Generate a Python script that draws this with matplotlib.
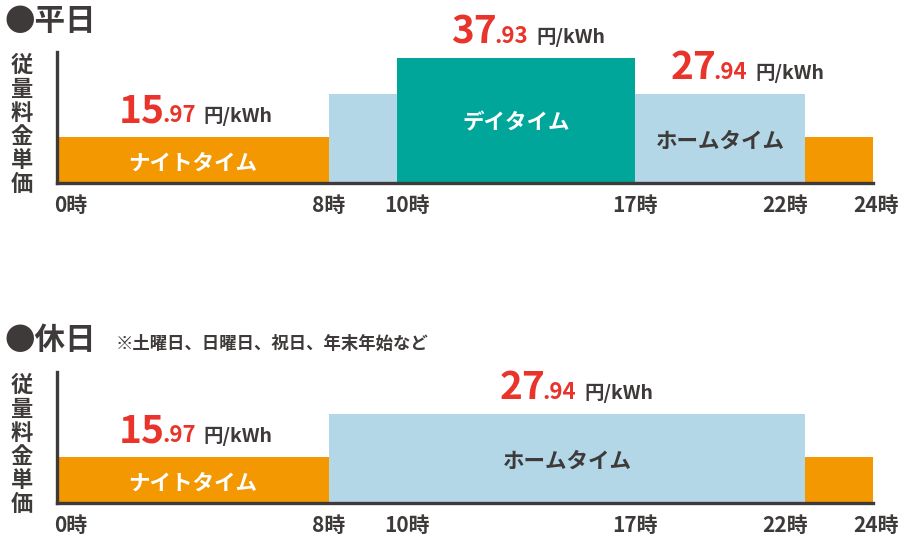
import matplotlib.pyplot as plt
from matplotlib.offsetbox import TextArea, HPacker, AnnotationBbox

plt.rcParams['font.family'] = ['Noto Sans CJK JP', 'DejaVu Sans']

# Data
plans = ['night', 'day', 'home']
plan_names = ['ナイトタイム', 'デイタイム', 'ホームタイム']
plan_prices = [15.97, 37.93, 27.94]

hour_ticks = [0, 8, 10, 17, 22, 24]
tick_labels = ['0時', '8時', '10時', '17時', '22時', '24時']

weekday_start = [0, 8, 10, 17, 22]
weekday_end = [8, 10, 17, 22, 24]
weekday_plan = ['night', 'home', 'day', 'home', 'night']
weekday_labeled = [0, 2, 3]

holiday_start = [0, 8, 22]
holiday_end = [8, 22, 24]
holiday_plan = ['night', 'home', 'night']
holiday_labeled = [0, 1]

# Style
DARK = '#3e3a39'
RED = '#e8342b'
plan_colors = {'night': '#f39800', 'day': '#00a69a', 'home': '#b4d7e8'}
name_colors = {'night': 'white', 'day': 'white', 'home': DARK}
tick_ha = ['left', 'center', 'center', 'center', 'right', 'center']
tick_dx = [-2, 0, 7, 0, 2, 2]
Y_LIM = (3.3, 39.6)


def price_label(value):
    whole, frac = f"{value:.2f}".split('.')
    big = TextArea(whole, textprops=dict(color=RED, fontsize=28, fontweight='bold'))
    small = TextArea('.' + frac, textprops=dict(color=RED, fontsize=16, fontweight='bold'))
    unit = TextArea('円/kWh', textprops=dict(color=DARK, fontsize=14, fontweight='bold'))
    num = HPacker(children=[big, small], align='baseline', pad=0, sep=-2)
    return HPacker(children=[num, unit], align='baseline', pad=0, sep=6)


def draw_panel(ax, starts, ends, plan_seq, labeled, label_dx):
    price = [plan_prices[plans.index(p)] for p in plan_seq]
    widths = [e - s for s, e in zip(starts, ends)]
    ax.bar(starts, price, width=widths, align='edge',
           color=[plan_colors[p] for p in plan_seq], edgecolor='none', zorder=1)
    ax.set_xlim(0, 24)
    ax.set_ylim(*Y_LIM)
    for side in ['top', 'right']:
        ax.spines[side].set_visible(False)
    for side in ['left', 'bottom']:
        ax.spines[side].set_color(DARK)
        ax.spines[side].set_linewidth(2.4)
        ax.spines[side].set_zorder(3)
    ax.set_xticks([])
    ax.set_yticks([])

    for i, dx in zip(labeled, label_dx):
        p = plan_seq[i]
        mid = (starts[i] + ends[i]) / 2
        ab = AnnotationBbox(price_label(price[i]), (mid, price[i]), xycoords='data',
                            xybox=(dx, 5), boxcoords='offset points',
                            box_alignment=(0.5, 0), frameon=False, pad=0)
        ax.add_artist(ab)
        ax.annotate(plan_names[plans.index(p)], (mid, (Y_LIM[0] + price[i]) / 2),
                    xytext=(0, -2), textcoords='offset points',
                    ha='center', va='center', fontsize=15.5, fontweight='bold',
                    color=name_colors[p])

    for h, lab, ha, dx in zip(hour_ticks, tick_labels, tick_ha, tick_dx):
        ax.annotate(lab, (h, 0), xycoords=('data', 'axes fraction'),
                    xytext=(dx, -16), textcoords='offset points',
                    ha=ha, va='center', fontsize=15, fontweight='bold', color=DARK,
                    annotation_clip=False)


fig = plt.figure(figsize=(9.05, 5.35), dpi=100)
W, H = 905, 535

ax_top = fig.add_axes([57 / W, 1 - 183 / H, 816 / W, 131 / H])
draw_panel(ax_top, weekday_start, weekday_end, weekday_plan, weekday_labeled, [2, 9, 20])

ax_bot = fig.add_axes([57 / W, 1 - 503 / H, 816 / W, 131 / H])
draw_panel(ax_bot, holiday_start, holiday_end, holiday_plan, holiday_labeled, [2, 7])

# Titles
fig.text(5 / W, 1 - 21 / H, '●平日', fontsize=22, fontweight='bold', color=DARK, va='center')
fig.text(5 / W, 1 - 340 / H, '●休日', fontsize=22, fontweight='bold', color=DARK, va='center')
fig.text(116 / W, 1 - 344 / H, '※土曜日、日曜日、祝日、年末年始など',
         fontsize=12.5, fontweight='bold', color=DARK, va='center')

# Vertical y labels
ylabel = '\n'.join('従量料金単価')
for yc in [125, 445]:
    fig.text(22 / W, 1 - yc / H, ylabel, fontsize=16, fontweight='bold', color=DARK,
             ha='center', va='center', linespacing=1.05)

fig.savefig('out.png', dpi=100)
